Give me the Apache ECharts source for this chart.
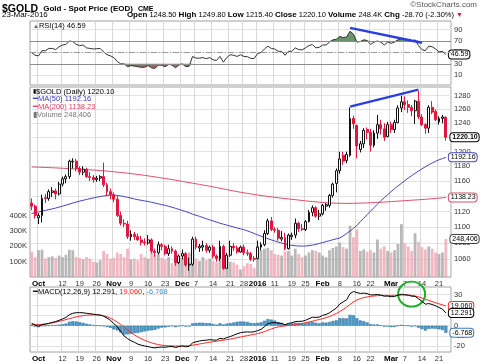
<!DOCTYPE html>
<html><head><meta charset="utf-8">
<script src="https://cdn.jsdelivr.net/npm/echarts@6/dist/echarts.min.js"></script>
<style>html,body{margin:0;padding:0;background:#fff}#c{width:480px;height:363px}</style>
</head><body><div id="c"></div>
<script>
const dates = ['2015-09-29','2015-09-30',
'2015-10-01','2015-10-02','2015-10-05','2015-10-06','2015-10-07','2015-10-08','2015-10-09','2015-10-12','2015-10-13','2015-10-14','2015-10-15','2015-10-16','2015-10-19','2015-10-20','2015-10-21','2015-10-22','2015-10-23','2015-10-26','2015-10-27','2015-10-28','2015-10-29','2015-10-30',
'2015-11-02','2015-11-03','2015-11-04','2015-11-05','2015-11-06','2015-11-09','2015-11-10','2015-11-11','2015-11-12','2015-11-13','2015-11-16','2015-11-17','2015-11-18','2015-11-19','2015-11-20','2015-11-23','2015-11-24','2015-11-25','2015-11-27','2015-11-30',
'2015-12-01','2015-12-02','2015-12-03','2015-12-04','2015-12-07','2015-12-08','2015-12-09','2015-12-10','2015-12-11','2015-12-14','2015-12-15','2015-12-16','2015-12-17','2015-12-18','2015-12-21','2015-12-22','2015-12-23','2015-12-24','2015-12-28','2015-12-29','2015-12-30','2015-12-31',
'2016-01-04','2016-01-05','2016-01-06','2016-01-07','2016-01-08','2016-01-11','2016-01-12','2016-01-13','2016-01-14','2016-01-15','2016-01-19','2016-01-20','2016-01-21','2016-01-22','2016-01-25','2016-01-26','2016-01-27','2016-01-28','2016-01-29',
'2016-02-01','2016-02-02','2016-02-03','2016-02-04','2016-02-05','2016-02-08','2016-02-09','2016-02-10','2016-02-11','2016-02-12','2016-02-16','2016-02-17','2016-02-18','2016-02-19','2016-02-22','2016-02-23','2016-02-24','2016-02-25','2016-02-26','2016-02-29',
'2016-03-01','2016-03-02','2016-03-03','2016-03-04','2016-03-07','2016-03-08','2016-03-09','2016-03-10','2016-03-11','2016-03-14','2016-03-15','2016-03-16','2016-03-17','2016-03-18','2016-03-21','2016-03-22','2016-03-23'];

// [open, close, low, high]
const ohlc = [
[1131,1127,1122,1137],[1127,1115,1111,1129],[1112,1115,1104,1118],[1115,1137,1106,1142],[1138,1137,1131,1143],
[1137,1146,1134,1149],[1145,1147,1139,1152],[1147,1143,1136,1150],[1143,1156,1141,1159],[1156,1163,1153,1166],
[1163,1166,1157,1169],[1166,1187,1163,1189],[1186,1187,1177,1191],[1187,1177,1173,1190],[1177,1172,1168,1180],
[1172,1176,1168,1180],[1176,1166,1164,1178],[1166,1165,1160,1172],[1165,1162,1158,1168],[1162,1164,1159,1167],
[1164,1166,1160,1168],[1166,1155,1152,1185],[1155,1146,1140,1158],[1146,1142,1136,1150],[1142,1136,1132,1145],
[1136,1115,1113,1140],[1115,1105,1102,1120],[1105,1104,1100,1110],[1104,1088,1085,1108],[1088,1091,1083,1096],
[1091,1088,1084,1094],[1088,1084,1083,1092],[1084,1081,1077,1089],[1081,1080,1077,1086],[1080,1084,1078,1090],
[1084,1070,1067,1086],[1070,1068,1063,1073],[1068,1078,1066,1082],[1078,1076,1071,1080],[1076,1067,1065,1078],
[1067,1073,1064,1078],[1073,1070,1067,1076],[1070,1056,1052,1072],[1056,1064,1054,1066],[1064,1067,1060,1072],
[1067,1053,1051,1069],[1053,1054,1046,1062],[1054,1085,1052,1088],[1085,1075,1072,1088],[1074,1076,1069,1079],
[1075,1077,1070,1083],[1077,1071,1068,1080],[1071,1075,1068,1077],[1075,1064,1061,1078],[1064,1061,1057,1066],
[1061,1076,1058,1083],[1076,1049,1047,1078],[1049,1065,1049,1068],[1065,1076,1063,1083],[1076,1074,1070,1080],
[1074,1069,1067,1077],[1069,1075,1068,1077],[1075,1068,1065,1078],[1068,1067,1064,1072],[1067,1060,1058,1069],
[1061,1060,1057,1064],[1061,1075,1060,1083],[1075,1078,1071,1081],[1078,1092,1076,1096],[1092,1108,1090,1111],
[1108,1097,1095,1113],[1097,1096,1093,1100],[1096,1086,1083,1099],[1085,1087,1082,1095],[1087,1073,1071,1093],
[1073,1090,1072,1092],[1088,1090,1084,1093],[1090,1105,1086,1111],[1105,1098,1094,1107],[1098,1097,1095,1104],
[1097,1107,1095,1109],[1107,1119,1106,1122],[1119,1125,1114,1128],[1125,1114,1112,1127],[1114,1117,1109,1122],
[1117,1128,1115,1130],[1127,1129,1121,1131],[1128,1141,1125,1143],[1141,1156,1138,1158],[1157,1174,1145,1177],
[1174,1190,1170,1200],[1195,1187,1182,1200],[1188,1196,1184,1200],[1195,1247,1193,1263],[1247,1239,1232,1251],
[1237,1208,1191,1238],[1203,1211,1199,1215],[1211,1230,1205,1233],[1231,1227,1217,1234],[1227,1209,1200,1232],
[1209,1226,1206,1230],[1226,1238,1218,1252],[1238,1232,1224,1245],[1232,1220,1215,1240],[1221,1238,1220,1242],
[1238,1231,1226,1242],[1231,1241,1226,1245],[1241,1262,1240,1266],[1262,1271,1256,1280],[1271,1267,1259,1279],
[1267,1263,1255,1273],[1263,1258,1250,1266],[1258,1272,1239,1274],[1272,1249,1246,1287],[1249,1238,1236,1253],
[1238,1233,1225,1240],[1233,1263,1226,1266],[1263,1256,1253,1272],[1257,1245,1243,1260],[1242,1247,1238,1250],
[1247,1249,1240,1252],[1248.5,1220.1,1215.4,1249.8]];

const volume = [165000,130000,175000,178000,120000,130000,135000,125000,140000,130000,
145000,178000,175000,130000,125000,115000,130000,120000,100000,95000,
110000,170000,150000,120000,125000,160000,150000,130000,185000,115000,
120000,110000,150000,130000,120000,160000,140000,150000,125000,115000,
130000,90000,100000,135000,125000,145000,160000,185000,120000,105000,
130000,110000,120000,105000,95000,135000,165000,130000,100000,95000,
80000,50000,70000,90000,85000,60000,200000,175000,185000,190000,
175000,150000,145000,140000,165000,170000,140000,185000,150000,130000,
140000,160000,175000,170000,160000,140000,130000,175000,190000,200000,
225000,195000,185000,335000,260000,310000,170000,180000,165000,175000,
160000,245000,185000,200000,170000,160000,175000,215000,345000,220000,
200000,170000,286000,230000,195000,180000,200000,185000,160000,150000,
160000,248406];

const ma50 = [1117.5,1118.5,1119.5,1120.5,1121.5,1122.5,1123.5,1124.5,1125.8,1127.0,
1128.3,1129.6,1131.0,1132.3,1133.5,1134.6,1135.7,1136.7,1137.7,1138.6,
1139.5,1140.3,1141.0,1141.5,1141.4,1141.0,1140.3,1139.5,1138.5,1137.5,
1136.4,1135.4,1134.6,1133.8,1133.0,1132.0,1131.0,1130.0,1129.0,1128.0,
1126.8,1125.5,1124.2,1122.8,1121.4,1120.0,1118.5,1116.6,1115.2,1113.8,
1112.3,1110.8,1109.3,1107.9,1106.5,1105.0,1103.8,1102.6,1101.4,1100.2,
1099.0,1097.9,1096.8,1095.3,1093.7,1092.0,1090.3,1088.6,1087.0,1085.5,
1084.0,1082.6,1081.3,1080.0,1079.0,1078.0,1077.2,1076.7,1076.4,1076.3,
1076.4,1076.8,1077.5,1078.4,1079.5,1080.6,1081.8,1083.0,1084.2,1085.3,
1086.4,1089.0,1092.0,1095.0,1098.5,1102.0,1107.0,1111.5,1116.0,1120.5,
1125.0,1129.5,1134.0,1138.0,1142.0,1146.0,1150.0,1153.5,1157.0,1160.5,
1164.0,1167.3,1170.5,1173.5,1176.5,1179.3,1182.0,1184.5,1186.8,1188.8,
1190.6,1192.16];

const ma200 = [1179.0,1178.9,1178.8,1178.6,1178.4,1178.2,1178.0,1177.8,1177.5,1177.3,
1177.0,1176.8,1176.5,1176.3,1176.0,1175.7,1175.4,1175.1,1174.8,1174.5,
1174.2,1173.8,1173.4,1173.0,1172.6,1172.1,1171.6,1171.1,1170.6,1170.1,
1169.5,1168.9,1168.3,1167.7,1167.0,1166.3,1165.6,1164.9,1164.2,1163.5,
1162.8,1162.0,1161.2,1160.4,1159.6,1158.8,1158.0,1157.2,1156.4,1155.6,
1154.8,1154.0,1153.2,1152.3,1151.4,1150.5,1149.6,1148.7,1147.8,1146.9,
1146.0,1145.2,1144.4,1143.7,1143.0,1142.3,1141.6,1140.9,1140.3,1139.7,
1139.1,1138.5,1137.9,1137.4,1136.9,1136.4,1135.9,1135.4,1134.9,1134.4,
1133.9,1133.4,1133.0,1132.6,1132.2,1131.8,1131.5,1131.2,1131.0,1130.8,
1130.7,1130.6,1130.6,1130.6,1130.7,1130.8,1130.9,1131.0,1131.2,1131.4,
1131.6,1131.8,1132.0,1132.3,1132.6,1132.9,1133.2,1133.5,1133.8,1134.1,
1134.4,1134.7,1135.0,1135.3,1135.6,1135.9,1136.3,1136.7,1137.1,1137.5,
1137.9,1138.23];

const rsi = [49.6,45,44,53,53,57,57,55,60,63,
64,70,69,64,62,63,58,57,56,56.5,
57,51,46,44,41,34,30,30,25,27,
26,25,24,24,27,23,22,28,27.5,25,
29,28,23,28,30,25,26,43,40,40,
41,39,41,37,36,43,33,41,46,45,
43,46,43,42.5,39.5,39.5,48,50,56,61,
57,56,52,52,45,52,52,58,55,54.5,
58,62,64,58,59,63,63,68,72,73,
78,76,77,87,82,68,69,72,71,64,
68,70,68,63,68,66,68,72,74,72.5,
71,69,72,62,55,53,61,60,56,51,
52,46.59];

const macd = [2.3,0.5,-0.3,1.0,1.6,2.3,3.2,4.0,5.2,6.5,
8.0,10.6,12.0,12.6,12.6,12.5,12.0,11.6,11.1,10.6,
10.3,9.2,7.4,5.2,2.0,-1.0,-5.5,-10.0,-12.5,-14.5,
-16.0,-17.8,-18.8,-19.6,-20.2,-21.0,-21.4,-20.9,-20.6,-20.8,
-20.3,-20.0,-21.0,-20.2,-19.5,-20.3,-20.0,-16.5,-15.6,-14.8,
-14.2,-14.0,-13.5,-13.8,-14.0,-12.2,-12.8,-11.5,-10.5,-9.2,
-7.8,-6.8,-6.2,-6.0,-6.2,-5.8,-4.8,-3.5,-1.0,2.0,
2.8,3.0,2.5,2.2,1.0,2.2,2.8,4.0,4.2,4.3,
5.2,6.8,8.2,8.0,8.3,10.0,10.8,12.5,14.8,17.0,
21.0,23.0,25.0,31.0,33.0,32.0,31.2,31.5,31.0,29.8,
29.8,30.2,29.6,28.5,28.6,28.0,28.2,29.5,30.4,30.0,
29.5,28.5,28.4,26.0,23.5,20.8,21.4,20.5,19.2,17.6,
16.0,12.291];

const signal = [1.4,1.3,1.2,1.3,1.6,2.1,2.7,3.4,4.2,5.0,
5.9,6.8,7.7,8.5,9.2,9.7,10.1,10.3,10.4,10.4,
10.2,9.6,8.6,7.3,5.6,3.5,1.1,-1.5,-4.1,-6.6,
-8.8,-10.8,-12.6,-14.1,-15.4,-16.5,-17.5,-18.2,-18.8,-19.2,
-19.4,-19.5,-19.6,-19.6,-19.6,-19.5,-19.3,-18.8,-18.3,-17.7,
-17.1,-16.5,-16.0,-15.5,-15.0,-14.5,-14.0,-13.5,-13.0,-12.3,
-11.6,-10.9,-10.2,-9.6,-8.9,-8.3,-7.6,-6.8,-5.8,-4.4,
-3.1,-2.0,-1.2,-0.6,-0.2,0.2,0.6,1.1,1.6,2.2,
2.8,3.6,4.4,5.2,6.0,6.8,7.8,8.9,10.2,11.8,
13.6,15.7,17.9,20.5,23.0,24.8,26.1,27.1,27.8,28.3,
28.7,29.0,29.2,29.3,29.3,29.3,29.4,29.5,29.6,29.7,
29.6,29.3,28.7,27.9,26.8,25.5,24.5,23.3,22.2,21.1,
20.2,19.06];

const priceTicks = [1060,1080,1100,1120,1140,1160,1180,1200,1220,1240,1260,1280];
const volTicks = [100000,200000,300000,400000];
const rsiTicks = [10,30,50,70,90];
const macdTicks = [-20,-10,0,10,20,30];
const tickDates = ['2015-10-01','2015-10-12','2015-10-19','2015-10-26','2015-11-02','2015-11-09','2015-11-16','2015-11-23','2015-12-01','2015-12-07','2015-12-14','2015-12-21','2015-12-28','2016-01-04','2016-01-11','2016-01-19','2016-01-25','2016-02-01','2016-02-08','2016-02-16','2016-02-22','2016-03-01','2016-03-07','2016-03-14','2016-03-21'];
const tickLabels = ['Oct','12','19','26','Nov','9','16','23','Dec','7','14','21','28','2016','11','19','25','Feb','8','16','22','Mar','7','14','21'];
const monthLabels = ['Oct','Nov','Dec','2016','Feb','Mar'];
const trendPrice = [['2016-02-11',1264],['2016-03-11',1289]];
const trendRsi = [['2016-02-11',93],['2016-03-14',67]];
const circleAt = ['2016-03-09',30.5];

const FONT = 'Liberation Sans';
const last = dates.length - 1;
const cats = dates.concat(['']);
const tickSet = new Set(tickDates);
const monthSet = new Set(monthLabels);
const RED = '#e3173e';

function xAx(g, showLabels) {
  return {
    type: 'category', gridIndex: g, data: cats, boundaryGap: true,
    axisLine: {show: false}, axisTick: {show: false},
    axisLabel: {
      show: showLabels, interval: (i, v) => tickSet.has(v), margin: 3,
      fontFamily: FONT, fontSize: 7.5, color: '#333',
      formatter: v => { const t = tickLabels[tickDates.indexOf(v)] || ''; return monthSet.has(t) ? '{b|' + t + '}' : t; },
      rich: {b: {fontFamily: FONT, fontWeight: 'bold', fontSize: 8, color: '#000'}}
    },
    splitLine: {show: true, interval: (i, v) => tickSet.has(v), lineStyle: {color: '#d8d8d8', width: 1}}
  };
}
function box(color, text, bold) {
  return {show: true, formatter: () => text, fontFamily: FONT, fontSize: 7, color: '#000', fontWeight: bold ? 'bold' : 'normal',
    backgroundColor: '#fff', borderColor: color, borderWidth: 1, borderRadius: 3, padding: [1, 1, 0, 2], distance: 3};
}
const yLabel = {fontFamily: FONT, fontSize: 7.5, color: '#333', margin: 3, formatter: v => String(v)};

const volData = volume.map((v, i) => ({value: v, itemStyle: {color: ohlc[i][1] >= ohlc[i][0] ? 'rgba(160,160,160,0.75)' : 'rgba(238,160,172,0.75)'}}));
const hist = macd.map((m, i) => +(m - signal[i]).toFixed(3));
const rsiHi = rsi.map(v => Math.max(v, 70));
const rsiLo = rsi.map(v => Math.min(v, 30));

const chart = echarts.init(document.getElementById('c'));
chart.setOption({
  animation: false,
  backgroundColor: '#fff',
  textStyle: {fontFamily: FONT},
  title: [
    {left: 2, top: 0, padding: 0, text: '{a|$GOLD} {b|Gold - Spot Price (EOD)} {c|CME}',
      textStyle: {rich: {a: {fontFamily: FONT, fontSize: 10.5, fontWeight: 'bold', color: '#000'}, b: {fontFamily: FONT, fontSize: 8, color: '#000'}, c: {fontFamily: FONT, fontSize: 7, color: '#000'}}}},
    {left: 2, top: 11, padding: 0, text: '23-Mar-2016', textStyle: {fontFamily: FONT, fontSize: 8, fontWeight: 'normal', color: '#000'}},
    {right: 17, top: 11, padding: 0,
      text: '{k|Open} 1248.50 {k|High} 1249.80 {k|Low} 1215.40 {k|Close} 1220.10 {k|Volume} 248.4K {k|Chg} -28.70 (-2.30%) {r|▼}',
      textStyle: {fontFamily: FONT, fontSize: 7.5, fontWeight: 'normal', color: '#000',
        rich: {k: {fontFamily: FONT, fontSize: 8, fontWeight: 'bold', color: '#000'}, r: {fontSize: 7, color: RED}}}},
    {right: 3, top: 1, padding: 0, text: '©StockCharts.com', textStyle: {fontFamily: FONT, fontSize: 8, fontWeight: 'normal', color: '#555'}},
    {left: 33, top: 22, padding: 0, text: '{g|▲}RSI(14) 46.59', textStyle: {fontFamily: FONT, fontSize: 7.5, fontWeight: 'normal', color: '#000', rich: {g: {fontSize: 6, color: '#4e7d4e'}}}},
    {left: 33, top: 88, padding: 0,
      text: '{i|▮}$GOLD (Daily) 1220.10\n{bl|━MA(50) 1192.16}\n{rd|━MA(200) 1138.23}\n{gr|▮Volume 248,406}',
      textStyle: {fontFamily: FONT, fontSize: 7.5, fontWeight: 'normal', color: '#000', lineHeight: 7.6,
        rich: {i: {fontSize: 6, color: '#000', lineHeight: 7.6}, bl: {fontSize: 7.5, color: '#3a3ab8', lineHeight: 7.6}, rd: {fontSize: 7.5, color: '#e0405f', lineHeight: 7.6}, gr: {fontSize: 7.5, color: '#777', lineHeight: 7.6}}}},
    {left: 33, top: 288, padding: 0, text: '━MACD(12,26,9) 12.291, {r|19.060}, {b|-6.768}',
      textStyle: {fontFamily: FONT, fontSize: 7.5, fontWeight: 'normal', color: '#000', rich: {r: {fontSize: 7.5, color: '#ff2020'}, b: {fontSize: 7.5, color: '#3a9ad0'}}}}
  ],
  grid: [
    {left: 30, top: 21, width: 421, height: 64, show: true, borderColor: '#a0a0a0', backgroundColor: '#fff'},
    {left: 30, top: 87, width: 421, height: 190, show: true, borderColor: '#a0a0a0', backgroundColor: '#fff'},
    {left: 30, top: 287, width: 421, height: 65, show: true, borderColor: '#a0a0a0', backgroundColor: '#fff'}
  ],
  xAxis: [xAx(0, false), xAx(1, true), xAx(2, true)],
  yAxis: [
    {gridIndex: 0, type: 'value', position: 'right', min: -7, max: 105, axisLine: {show: false},
      axisTick: {show: false, customValues: rsiTicks}, axisLabel: Object.assign({customValues: rsiTicks}, yLabel),
      splitLine: {lineStyle: {color: '#e2e2e2'}}},
    {gridIndex: 1, type: 'log', logBase: 10, position: 'right', min: 1038.6, max: 1292.9, axisLine: {show: false},
      axisTick: {show: false, customValues: priceTicks}, axisLabel: Object.assign({customValues: priceTicks}, yLabel),
      splitLine: {lineStyle: {color: '#e2e2e2'}}},
    {gridIndex: 1, type: 'value', position: 'left', min: 0, max: 1240000, axisLine: {show: false},
      axisTick: {show: false, customValues: volTicks}, axisLabel: Object.assign({}, yLabel, {customValues: volTicks, formatter: v => (v / 1000) + 'K'}),
      splitLine: {show: false}},
    {gridIndex: 2, type: 'value', position: 'right', min: -25.4, max: 37.4, axisLine: {show: false},
      axisTick: {show: false, customValues: macdTicks}, axisLabel: Object.assign({customValues: macdTicks}, yLabel),
      splitLine: {lineStyle: {color: '#e2e2e2'}}}
  ],
  series: [
    {name: 'rsiHi', type: 'line', xAxisIndex: 0, yAxisIndex: 0, data: rsiHi, showSymbol: false, silent: true,
      lineStyle: {width: 0}, areaStyle: {origin: 70, color: '#5a8a5a', opacity: 0.9}, z: 2},
    {name: 'rsiLo', type: 'line', xAxisIndex: 0, yAxisIndex: 0, data: rsiLo, showSymbol: false, silent: true,
      lineStyle: {width: 0}, areaStyle: {origin: 30, color: '#94594f', opacity: 0.9}, z: 2},
    {name: 'RSI', type: 'line', xAxisIndex: 0, yAxisIndex: 0, data: rsi, showSymbol: false,
      lineStyle: {color: '#333', width: 1}, z: 4,
      endLabel: box('#000', '46.59', false),
      markLine: {silent: true, symbol: 'none', label: {show: false},
        data: [
          {yAxis: 70, lineStyle: {color: '#8c8c8c', type: 'solid', width: 1}},
          {yAxis: 30, lineStyle: {color: '#8c8c8c', type: 'solid', width: 1}},
          {yAxis: 50, lineStyle: {color: '#9a9a9a', type: [6, 2, 1, 2], width: 1}},
          [{coord: trendRsi[0], lineStyle: {color: '#2b3fe0', width: 2.5, type: 'solid'}}, {coord: trendRsi[1]}]
        ]}},
    {name: 'Volume', type: 'bar', xAxisIndex: 1, yAxisIndex: 2, data: volData, barWidth: '82%', z: 1,
      markPoint: {symbol: 'rect', symbolSize: 1, itemStyle: {color: 'rgba(0,0,0,0)'},
        label: Object.assign(box('#444', '248,406', false), {position: 'right', distance: 4}),
        data: [{coord: [dates[last], volume[last]]}]}},
    {name: 'MA200', type: 'line', xAxisIndex: 1, yAxisIndex: 1, data: ma200, showSymbol: false,
      lineStyle: {color: '#e24c6a', width: 1}, z: 3, endLabel: box('#e24c6a', '1138.23', false)},
    {name: 'MA50', type: 'line', xAxisIndex: 1, yAxisIndex: 1, data: ma50, showSymbol: false,
      lineStyle: {color: '#4444c0', width: 1}, z: 3, endLabel: box('#4444c0', '1192.16', false)},
    {name: 'GOLD', type: 'candlestick', xAxisIndex: 1, yAxisIndex: 1, data: ohlc, barWidth: 2.4, z: 5,
      itemStyle: {color: '#fff', color0: RED, borderColor: '#111', borderColor0: RED, borderWidth: 1},
      markLine: {silent: true, symbol: 'none', label: {show: false}, lineStyle: {color: '#2b3fe0', width: 2.5, type: 'solid'},
        data: [[{coord: trendPrice[0]}, {coord: trendPrice[1]}]]},
      markPoint: {symbol: 'rect', symbolSize: 1, itemStyle: {color: 'rgba(0,0,0,0)'},
        label: Object.assign(box('#000', '1220.10', true), {position: 'right', distance: 4}),
        data: [{coord: [dates[last], ohlc[last][1]]}]}},
    {name: 'Hist', type: 'bar', xAxisIndex: 2, yAxisIndex: 3, data: hist, barWidth: '90%', z: 2,
      itemStyle: {color: '#4a9ccc', borderColor: '#2a6e9c', borderWidth: 0.5},
      markPoint: {symbol: 'rect', symbolSize: 1, itemStyle: {color: 'rgba(0,0,0,0)'},
        label: Object.assign(box('#3a7ac0', '-6.768', false), {position: 'right', distance: 4}),
        data: [{coord: [dates[last], hist[last]]}]}},
    {name: 'Signal', type: 'line', xAxisIndex: 2, yAxisIndex: 3, data: signal, showSymbol: false,
      lineStyle: {color: '#ff2a2a', width: 1}, z: 4, endLabel: box('#ff2a2a', '19.060', false)},
    {name: 'MACD', type: 'line', xAxisIndex: 2, yAxisIndex: 3, data: macd, showSymbol: false,
      lineStyle: {color: '#000', width: 1}, z: 5, endLabel: box('#000', '12.291', false),
      markPoint: {symbol: 'circle', symbolSize: [27, 25], silent: true,
        itemStyle: {color: 'rgba(0,0,0,0)', borderColor: '#1fae2a', borderWidth: 2},
        label: {show: false}, data: [{coord: circleAt}]}}
  ]
});
</script></body></html>
